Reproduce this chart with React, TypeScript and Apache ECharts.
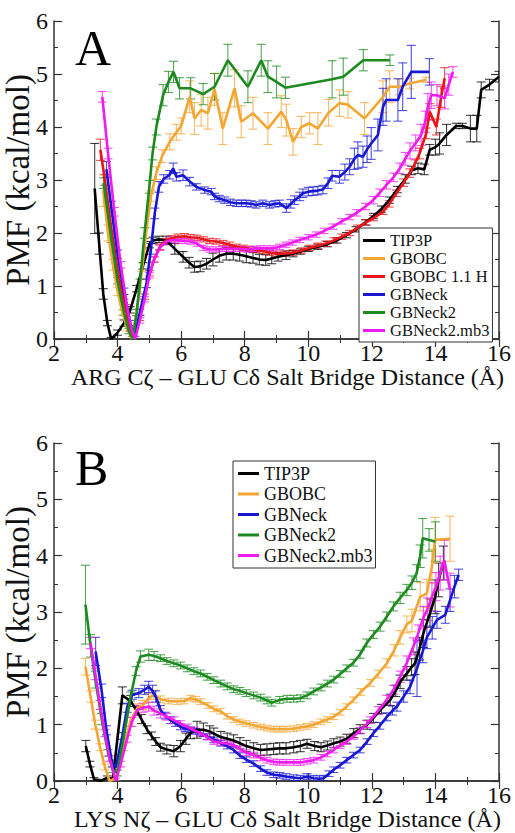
import React, { useEffect, useRef } from "react";
import * as echarts from "echarts";

// ---------- DATA: [distance (Å), PMF (kcal/mol), error] ----------
const A_TIP3P = [
  [3.28, 2.84, 0.85], [3.42, 1.8, 0.2], [3.55, 0.85, 0.1], [3.68, 0.3, 0.05], [3.8, 0.0, 0.03],
  [4.0, 0.12, 0.05], [4.2, 0.3, 0.06], [4.4, 0.55, 0.06], [4.6, 0.95, 0.06], [4.8, 1.38, 0.06],
  [5.0, 1.78, 0.06], [5.12, 1.86, 0.06], [5.3, 1.88, 0.06], [5.53, 1.86, 0.08], [5.8, 1.7, 0.1],
  [6.06, 1.55, 0.1], [6.25, 1.44, 0.1], [6.42, 1.36, 0.1], [6.6, 1.37, 0.1], [6.8, 1.42, 0.1],
  [7.0, 1.5, 0.12], [7.2, 1.57, 0.12], [7.42, 1.61, 0.12], [7.64, 1.61, 0.12], [7.84, 1.59, 0.12],
  [8.05, 1.56, 0.12], [8.26, 1.53, 0.1], [8.46, 1.5, 0.1], [8.66, 1.49, 0.1], [8.85, 1.52, 0.1],
  [9.05, 1.55, 0.08], [9.3, 1.58, 0.08], [9.52, 1.61, 0.06], [9.75, 1.65, 0.05], [10.0, 1.7, 0.05],
  [10.3, 1.74, 0.05], [10.6, 1.79, 0.05], [10.9, 1.86, 0.05], [11.2, 1.96, 0.05], [11.5, 2.07, 0.05],
  [11.8, 2.2, 0.05], [12.05, 2.32, 0.05], [12.3, 2.45, 0.06], [12.55, 2.62, 0.06], [12.8, 2.82, 0.06],
  [13.05, 3.02, 0.08], [13.25, 3.18, 0.08], [13.45, 3.22, 0.1], [13.65, 3.2, 0.1], [13.82, 3.57, 0.1],
  [14.0, 3.62, 0.15], [14.13, 3.69, 0.2], [14.35, 3.85, 0.2], [14.65, 4.02, 0.05], [14.85, 4.02, 0.05],
  [15.1, 3.97, 0.25], [15.3, 3.97, 0.25], [15.44, 4.7, 0.15], [15.7, 4.8, 0.1], [16.0, 4.95, 0.1],
];
const A_GBOBC = [
  [3.55, 2.8, 0.3], [3.7, 2.0, 0.15], [3.85, 1.4, 0.1], [4.0, 0.9, 0.08], [4.15, 0.5, 0.05],
  [4.3, 0.2, 0.05], [4.45, 0.0, 0.05], [4.6, 0.5, 0.06], [4.75, 1.2, 0.08], [4.9, 2.0, 0.1],
  [5.05, 2.7, 0.1], [5.22, 3.13, 0.12], [5.4, 3.45, 0.12], [5.64, 3.72, 0.15], [5.85, 3.9, 0.15],
  [6.0, 4.02, 0.15], [6.27, 4.57, 0.3], [6.42, 4.16, 0.3], [6.63, 4.32, 0.3], [6.84, 4.26, 0.3],
  [7.05, 4.71, 0.3], [7.31, 3.97, 0.3], [7.68, 4.73, 0.35], [7.89, 4.1, 0.3], [8.26, 4.26, 0.3],
  [8.73, 3.97, 0.3], [9.15, 4.29, 0.3], [9.31, 4.13, 0.3], [9.52, 3.72, 0.25], [9.78, 4.0, 0.2],
  [10.04, 4.07, 0.2], [10.3, 3.97, 0.3], [10.64, 4.27, 0.25], [10.98, 4.45, 0.25], [11.25, 4.42, 0.25],
  [11.77, 4.16, 0.3], [12.35, 4.57, 0.3], [12.56, 4.76, 0.3], [12.87, 4.76, 0.15], [13.19, 4.82, 0.1],
  [13.71, 4.89, 0.05],
];
const A_GBOBC11H = [
  [3.46, 3.57, 0.2], [3.6, 3.0, 0.1], [3.8, 2.1, 0.08], [4.0, 1.3, 0.06], [4.2, 0.7, 0.05],
  [4.4, 0.2, 0.05], [4.5, 0.0, 0.05], [4.7, 0.4, 0.05], [4.85, 0.8, 0.05], [5.01, 1.24, 0.05],
  [5.15, 1.5, 0.05], [5.33, 1.74, 0.05], [5.5, 1.85, 0.05], [5.7, 1.9, 0.05], [5.9, 1.93, 0.05],
  [6.1, 1.94, 0.05], [6.3, 1.92, 0.05], [6.5, 1.91, 0.05], [6.7, 1.88, 0.05], [6.9, 1.85, 0.05],
  [7.1, 1.84, 0.05], [7.32, 1.81, 0.05], [7.53, 1.78, 0.05], [7.74, 1.74, 0.05], [7.95, 1.72, 0.05],
  [8.15, 1.7, 0.05], [8.36, 1.68, 0.05], [8.57, 1.66, 0.05], [8.78, 1.63, 0.05], [8.99, 1.61, 0.05],
  [9.25, 1.61, 0.05], [9.52, 1.63, 0.05], [9.78, 1.67, 0.05], [10.04, 1.72, 0.05], [10.3, 1.76, 0.05],
  [10.55, 1.8, 0.05], [10.8, 1.86, 0.05], [11.05, 1.93, 0.05], [11.3, 2.0, 0.05], [11.55, 2.1, 0.05],
  [11.82, 2.2, 0.05], [12.05, 2.28, 0.05], [12.35, 2.4, 0.05], [12.55, 2.55, 0.06], [12.77, 2.75, 0.06],
  [13.0, 2.95, 0.07], [13.19, 3.13, 0.08], [13.35, 3.3, 0.08], [13.5, 3.5, 0.1], [13.71, 3.88, 0.1],
  [13.82, 4.29, 0.15], [14.03, 4.0, 0.15], [14.18, 4.57, 0.2], [14.29, 4.92, 0.2],
];
const A_GBNECK = [
  [3.65, 3.2, 0.15], [3.8, 2.5, 0.1], [4.0, 1.6, 0.08], [4.2, 0.9, 0.06], [4.4, 0.3, 0.05],
  [4.52, 0.0, 0.05], [4.7, 0.5, 0.06], [4.91, 1.05, 0.08], [5.05, 1.7, 0.1], [5.17, 2.37, 0.1],
  [5.3, 2.87, 0.1], [5.45, 3.02, 0.08], [5.64, 3.1, 0.08], [5.75, 3.22, 0.1], [5.85, 3.06, 0.08],
  [6.06, 3.09, 0.1], [6.27, 2.97, 0.08], [6.48, 2.87, 0.06], [6.74, 2.81, 0.06], [6.95, 2.78, 0.06],
  [7.05, 2.69, 0.06], [7.2, 2.65, 0.06], [7.37, 2.62, 0.06], [7.55, 2.58, 0.06], [7.74, 2.56, 0.06],
  [7.9, 2.56, 0.06], [8.05, 2.56, 0.06], [8.2, 2.55, 0.06], [8.36, 2.53, 0.06], [8.57, 2.56, 0.06],
  [8.78, 2.53, 0.06], [8.95, 2.55, 0.06], [9.1, 2.56, 0.06], [9.31, 2.47, 0.08], [9.45, 2.55, 0.08],
  [9.57, 2.62, 0.08], [9.73, 2.69, 0.08], [9.83, 2.75, 0.08], [10.0, 2.78, 0.08], [10.15, 2.79, 0.08],
  [10.3, 2.8, 0.08], [10.46, 2.82, 0.08], [10.62, 2.94, 0.1], [10.75, 3.08, 0.1], [10.98, 3.06, 0.12],
  [11.15, 3.15, 0.15], [11.3, 3.25, 0.15], [11.45, 3.4, 0.2], [11.56, 3.47, 0.25], [11.72, 3.44, 0.2],
  [11.85, 3.58, 0.25], [11.98, 3.69, 0.3], [12.19, 3.85, 0.3], [12.35, 4.38, 0.35], [12.45, 4.51, 0.4],
  [12.82, 4.51, 0.4], [12.97, 4.76, 0.45], [13.24, 5.04, 0.5], [13.81, 5.04, 0.25],
];
const A_GBNECK2 = [
  [3.56, 2.94, 0.1], [3.8, 1.9, 0.08], [4.0, 1.1, 0.06], [4.2, 0.5, 0.05], [4.35, 0.15, 0.05],
  [4.48, 0.0, 0.05], [4.6, 0.5, 0.06], [4.7, 1.05, 0.08], [4.85, 2.0, 0.1], [5.0, 2.87, 0.12],
  [5.1, 3.5, 0.12], [5.22, 4.0, 0.15], [5.43, 4.6, 0.2], [5.6, 4.85, 0.2], [5.76, 5.04, 0.2],
  [5.95, 4.73, 0.2], [6.3, 4.73, 0.2], [6.69, 4.62, 0.2], [7.05, 4.76, 0.25], [7.47, 5.26, 0.3],
  [8.1, 4.76, 0.3], [8.52, 5.26, 0.3], [8.73, 4.95, 0.3], [9.0, 4.85, 0.3], [9.28, 4.74, 0.2],
  [10.75, 4.9, 0.35], [11.1, 4.95, 0.35], [11.73, 5.26, 0.2], [12.57, 5.26, 0.1],
];
const A_MB3 = [
  [3.52, 4.57, 0.1], [3.7, 3.5, 0.1], [3.9, 2.4, 0.08], [4.1, 1.4, 0.06], [4.3, 0.6, 0.05],
  [4.45, 0.15, 0.05], [4.55, 0.0, 0.05], [4.7, 0.35, 0.05], [4.85, 0.75, 0.05], [5.0, 1.2, 0.05],
  [5.15, 1.5, 0.05], [5.33, 1.72, 0.05], [5.5, 1.83, 0.05], [5.7, 1.87, 0.05], [5.9, 1.86, 0.05],
  [6.1, 1.85, 0.05], [6.3, 1.84, 0.05], [6.5, 1.8, 0.05], [6.7, 1.72, 0.05], [6.9, 1.69, 0.05],
  [7.1, 1.69, 0.05], [7.3, 1.7, 0.05], [7.5, 1.7, 0.05], [7.7, 1.7, 0.05], [7.9, 1.7, 0.05],
  [8.1, 1.69, 0.05], [8.3, 1.7, 0.05], [8.5, 1.71, 0.05], [8.7, 1.71, 0.05], [8.9, 1.71, 0.05],
  [9.1, 1.74, 0.05], [9.3, 1.78, 0.05], [9.5, 1.82, 0.05], [9.73, 1.87, 0.05], [10.0, 1.92, 0.05],
  [10.25, 1.97, 0.05], [10.5, 2.04, 0.05], [10.78, 2.12, 0.05], [11.05, 2.22, 0.05], [11.3, 2.3, 0.05],
  [11.52, 2.38, 0.06], [11.8, 2.5, 0.06], [12.04, 2.62, 0.07], [12.25, 2.76, 0.07], [12.46, 2.91, 0.08],
  [12.68, 3.05, 0.08], [12.88, 3.22, 0.1], [13.05, 3.4, 0.12], [13.2, 3.55, 0.15], [13.38, 3.7, 0.15],
  [13.55, 3.85, 0.2], [13.68, 4.1, 0.2], [13.76, 4.38, 0.25], [13.87, 4.6, 0.25], [14.05, 4.6, 0.2],
  [14.29, 4.54, 0.2], [14.42, 4.8, 0.2], [14.55, 5.04, 0.1],
];

const B_TIP3P = [
  [3.0, 0.62, 0.1], [3.13, 0.3, 0.05], [3.26, 0.03, 0.03], [3.47, 0.0, 0.03], [3.68, 0.06, 0.03],
  [3.85, 0.03, 0.03], [4.15, 1.52, 0.15], [4.41, 1.42, 0.1], [4.6, 1.25, 0.08], [4.75, 1.1, 0.08],
  [4.93, 0.91, 0.07], [5.07, 0.8, 0.07], [5.2, 0.7, 0.07], [5.35, 0.6, 0.07], [5.55, 0.56, 0.08],
  [5.77, 0.53, 0.1], [5.98, 0.62, 0.1], [6.15, 0.75, 0.1], [6.29, 0.85, 0.1], [6.5, 0.91, 0.15],
  [6.7, 0.91, 0.12], [6.9, 0.88, 0.1], [7.03, 0.84, 0.1], [7.25, 0.78, 0.1], [7.45, 0.75, 0.1],
  [7.65, 0.72, 0.1], [7.85, 0.67, 0.1], [8.05, 0.62, 0.1], [8.28, 0.58, 0.1], [8.5, 0.55, 0.1],
  [8.7, 0.56, 0.1], [8.91, 0.57, 0.1], [9.1, 0.58, 0.1], [9.3, 0.58, 0.1], [9.54, 0.6, 0.1],
  [9.75, 0.62, 0.1], [9.96, 0.66, 0.08], [10.2, 0.62, 0.08], [10.4, 0.6, 0.08], [10.6, 0.63, 0.08],
  [10.8, 0.67, 0.08], [11.0, 0.7, 0.08], [11.21, 0.75, 0.08], [11.43, 0.85, 0.08], [11.63, 0.92, 0.08],
  [11.85, 1.0, 0.08], [12.05, 1.12, 0.08], [12.3, 1.28, 0.08], [12.58, 1.44, 0.1], [12.75, 1.6, 0.1],
  [12.89, 1.76, 0.12], [13.1, 1.91, 0.12], [13.25, 2.02, 0.15], [13.36, 2.09, 0.2], [13.5, 2.35, 0.2],
  [13.62, 2.62, 0.25], [13.83, 2.98, 0.25], [13.99, 3.27, 0.3], [14.1, 3.57, 0.3], [14.25, 3.87, 0.3],
];
const B_GBOBC = [
  [2.99, 2.03, 0.15], [3.15, 1.5, 0.1], [3.3, 1.0, 0.08], [3.45, 0.6, 0.06], [3.6, 0.25, 0.05],
  [3.75, 0.0, 0.05], [3.95, 0.05, 0.05], [4.2, 0.6, 0.06], [4.4, 1.05, 0.08], [4.62, 1.29, 0.08],
  [4.8, 1.35, 0.08], [4.98, 1.47, 0.08], [5.14, 1.53, 0.08], [5.35, 1.45, 0.06], [5.6, 1.42, 0.05],
  [5.88, 1.41, 0.05], [6.1, 1.42, 0.05], [6.29, 1.47, 0.05], [6.45, 1.45, 0.05], [6.61, 1.41, 0.05],
  [6.85, 1.34, 0.05], [7.03, 1.28, 0.05], [7.24, 1.24, 0.05], [7.45, 1.15, 0.05], [7.65, 1.09, 0.05],
  [7.85, 1.05, 0.05], [8.05, 1.02, 0.05], [8.28, 0.99, 0.05], [8.5, 0.96, 0.05], [8.7, 0.94, 0.05],
  [8.91, 0.92, 0.05], [9.1, 0.92, 0.05], [9.3, 0.92, 0.05], [9.54, 0.93, 0.05], [9.75, 0.95, 0.05],
  [9.96, 0.97, 0.05], [10.17, 1.0, 0.05], [10.4, 1.05, 0.05], [10.6, 1.09, 0.05], [10.8, 1.14, 0.05],
  [11.0, 1.22, 0.05], [11.2, 1.32, 0.05], [11.42, 1.44, 0.05], [11.65, 1.58, 0.06], [11.95, 1.74, 0.06],
  [12.2, 1.9, 0.07], [12.47, 2.09, 0.08], [12.7, 2.32, 0.1], [12.89, 2.55, 0.12], [13.1, 2.78, 0.15],
  [13.26, 2.85, 0.2], [13.52, 3.27, 0.25], [13.73, 3.33, 0.25], [13.89, 3.81, 0.3], [13.99, 4.28, 0.4],
  [14.46, 4.3, 0.4],
];
const B_GBNECK = [
  [3.31, 2.3, 0.25], [3.5, 1.6, 0.12], [3.65, 0.9, 0.08], [3.83, 0.31, 0.06], [3.95, 0.25, 0.05],
  [4.15, 0.8, 0.06], [4.3, 1.3, 0.08], [4.46, 1.53, 0.08], [4.67, 1.56, 0.08], [4.85, 1.62, 0.08],
  [4.98, 1.67, 0.1], [5.1, 1.6, 0.1], [5.2, 1.5, 0.1], [5.35, 1.26, 0.08], [5.5, 1.16, 0.06],
  [5.67, 1.08, 0.06], [5.82, 1.02, 0.05], [5.98, 0.96, 0.05], [6.13, 0.93, 0.05], [6.29, 0.91, 0.05],
  [6.45, 0.88, 0.05], [6.61, 0.85, 0.05], [6.82, 0.79, 0.05], [7.03, 0.73, 0.05], [7.25, 0.67, 0.05],
  [7.45, 0.62, 0.05], [7.65, 0.55, 0.05], [7.85, 0.45, 0.05], [8.05, 0.38, 0.05], [8.28, 0.31, 0.05],
  [8.5, 0.22, 0.05], [8.7, 0.15, 0.05], [8.91, 0.11, 0.05], [9.1, 0.1, 0.05], [9.3, 0.08, 0.05],
  [9.54, 0.06, 0.05], [9.75, 0.05, 0.05], [9.96, 0.08, 0.05], [10.17, 0.05, 0.05], [10.35, 0.04, 0.05],
  [10.48, 0.05, 0.05], [10.65, 0.13, 0.05], [10.8, 0.2, 0.05], [11.0, 0.28, 0.05], [11.21, 0.37, 0.05],
  [11.42, 0.46, 0.05], [11.63, 0.55, 0.05], [11.85, 0.7, 0.05], [12.05, 0.85, 0.06], [12.25, 0.98, 0.06],
  [12.47, 1.14, 0.07], [12.65, 1.25, 0.08], [12.79, 1.32, 0.08], [13.0, 1.5, 0.1], [13.2, 1.67, 0.12],
  [13.42, 2.0, 0.5], [13.6, 2.3, 0.2], [13.73, 2.55, 0.2], [13.9, 2.72, 0.2], [14.05, 2.86, 0.15],
  [14.31, 2.95, 0.15], [14.46, 3.21, 0.2], [14.6, 3.45, 0.2], [14.73, 3.66, 0.1],
];
const B_GBNECK2 = [
  [2.99, 3.13, 0.7], [3.15, 2.4, 0.2], [3.3, 1.8, 0.15], [3.5, 1.1, 0.1], [3.7, 0.5, 0.06],
  [3.85, 0.2, 0.05], [3.99, 0.14, 0.05], [4.2, 0.8, 0.06], [4.41, 1.5, 0.08], [4.58, 1.95, 0.08],
  [4.72, 2.21, 0.1], [4.98, 2.24, 0.1], [5.15, 2.22, 0.08], [5.35, 2.18, 0.06], [5.55, 2.13, 0.06],
  [5.77, 2.09, 0.06], [5.98, 2.05, 0.06], [6.19, 2.0, 0.06], [6.4, 1.95, 0.06], [6.61, 1.91, 0.06],
  [6.82, 1.85, 0.06], [7.03, 1.79, 0.06], [7.25, 1.73, 0.06], [7.45, 1.68, 0.06], [7.65, 1.63, 0.06],
  [7.85, 1.6, 0.06], [8.05, 1.56, 0.06], [8.28, 1.52, 0.06], [8.5, 1.48, 0.06], [8.7, 1.43, 0.06],
  [8.85, 1.39, 0.06], [9.1, 1.44, 0.06], [9.33, 1.46, 0.06], [9.54, 1.46, 0.06], [9.75, 1.47, 0.06],
  [9.96, 1.52, 0.06], [10.17, 1.59, 0.06], [10.4, 1.66, 0.06], [10.6, 1.73, 0.06], [10.8, 1.8, 0.06],
  [11.0, 1.9, 0.06], [11.21, 2.0, 0.06], [11.42, 2.1, 0.06], [11.63, 2.25, 0.07], [11.84, 2.45, 0.07],
  [12.05, 2.6, 0.07], [12.26, 2.74, 0.08], [12.47, 2.92, 0.08], [12.68, 3.1, 0.08], [12.89, 3.25, 0.1],
  [13.1, 3.39, 0.1], [13.26, 3.52, 0.12], [13.41, 3.69, 0.15], [13.52, 3.99, 0.2], [13.6, 4.31, 0.35],
  [13.8, 4.28, 0.2], [14.0, 4.25, 0.35],
];
const B_MB3 = [
  [3.15, 2.45, 0.1], [3.3, 1.9, 0.1], [3.45, 1.35, 0.08], [3.6, 0.85, 0.06], [3.75, 0.4, 0.05],
  [3.94, 0.0, 0.05], [4.1, 0.3, 0.05], [4.3, 0.75, 0.06], [4.45, 1.05, 0.08], [4.62, 1.26, 0.08],
  [4.8, 1.3, 0.08], [4.98, 1.32, 0.08], [5.15, 1.25, 0.08], [5.35, 1.2, 0.08], [5.55, 1.14, 0.06],
  [5.77, 1.08, 0.06], [5.98, 1.02, 0.05], [6.19, 0.96, 0.05], [6.4, 0.9, 0.05], [6.61, 0.85, 0.05],
  [6.82, 0.78, 0.05], [7.03, 0.7, 0.05], [7.25, 0.68, 0.05], [7.45, 0.66, 0.05], [7.65, 0.64, 0.05],
  [7.85, 0.57, 0.05], [8.05, 0.5, 0.05], [8.28, 0.46, 0.05], [8.5, 0.41, 0.05], [8.7, 0.37, 0.05],
  [8.91, 0.34, 0.05], [9.1, 0.33, 0.05], [9.3, 0.33, 0.05], [9.54, 0.33, 0.05], [9.75, 0.33, 0.05],
  [9.96, 0.35, 0.05], [10.17, 0.37, 0.05], [10.4, 0.42, 0.05], [10.6, 0.48, 0.05], [10.8, 0.55, 0.05],
  [11.0, 0.63, 0.05], [11.21, 0.7, 0.05], [11.42, 0.79, 0.05], [11.63, 0.9, 0.05], [11.84, 1.01, 0.06],
  [11.95, 1.08, 0.06], [12.2, 1.25, 0.07], [12.47, 1.44, 0.08], [12.68, 1.62, 0.08], [12.89, 1.85, 0.1],
  [13.1, 2.1, 0.12], [13.31, 2.39, 0.15], [13.46, 2.62, 0.15], [13.62, 2.9, 0.2], [13.75, 3.05, 0.2],
  [13.89, 3.27, 0.25], [14.02, 3.45, 0.25], [14.15, 3.69, 0.3], [14.28, 3.92, 0.35], [14.46, 3.39, 0.3],
];

const X_TITLE_A = "ARG Cζ – GLU Cδ Salt Bridge Distance (Å)";
const X_TITLE_B = "LYS Nζ – GLU Cδ Salt Bridge Distance (Å)";
const Y_TITLE = "PMF (kcal/mol)";

const PANEL_A = [
  { name: "TIP3P", data: A_TIP3P },
  { name: "GBOBC", data: A_GBOBC },
  { name: "GBOBC 1.1 H", data: A_GBOBC11H },
  { name: "GBNeck", data: A_GBNECK },
  { name: "GBNeck2", data: A_GBNECK2 },
  { name: "GBNeck2.mb3", data: A_MB3 },
];
const PANEL_B = [
  { name: "TIP3P", data: B_TIP3P },
  { name: "GBOBC", data: B_GBOBC },
  { name: "GBNeck", data: B_GBNECK },
  { name: "GBNeck2", data: B_GBNECK2 },
  { name: "GBNeck2.mb3", data: B_MB3 },
];

const COLORS: Record<string, string> = {
  TIP3P: "#000000",
  GBOBC: "#f3a634",
  "GBOBC 1.1 H": "#e8161a",
  GBNeck: "#1717d4",
  GBNeck2: "#1c8a1f",
  "GBNeck2.mb3": "#ef1bef",
};

const FONT = '"Liberation Serif", "Times New Roman", serif';

function buildOption() {
  const grids = [
    { left: 54, top: 21, width: 445, height: 318 },
    { left: 54, top: 443, width: 445, height: 338 },
  ];
  const axisLineStyle = { color: "#333", width: 1.5 };
  const xAxes: any[] = [];
  const yAxes: any[] = [];
  const xTitles = [X_TITLE_A, X_TITLE_B];
  grids.forEach((_, gi) => {
    const baseX = {
      type: "value", gridIndex: gi, min: 2, max: 16, interval: 2,
      axisLine: { show: true, lineStyle: axisLineStyle },
      axisTick: { show: true, inside: true, length: 8, lineStyle: { color: "#333", width: 1.2 } },
      minorTick: { show: true, splitNumber: 2, length: 4, lineStyle: { color: "#333", width: 1 } },
      splitLine: { show: false },
    };
    xAxes.push({
      ...baseX, position: "bottom",
      axisLabel: { fontFamily: FONT, fontSize: 24, color: "#111", margin: 2 },
      name: xTitles[gi], nameLocation: "middle", nameGap: 26, nameMoveOverlap: false,
      nameTextStyle: { fontFamily: FONT, fontSize: 24, color: "#111", padding: [0, 0, 0, 22] },
    });
    xAxes.push({ ...baseX, position: "top", axisLabel: { show: false } });
    const baseY = {
      type: "value", gridIndex: gi, min: 0, max: 6, interval: 1,
      axisLine: { show: true, lineStyle: axisLineStyle },
      axisTick: { show: true, inside: true, length: 8, lineStyle: { color: "#333", width: 1.2 } },
      minorTick: { show: true, splitNumber: 2, length: 4, lineStyle: { color: "#333", width: 1 } },
      splitLine: { show: false },
    };
    yAxes.push({
      ...baseY, position: "left",
      axisLabel: { fontFamily: FONT, fontSize: 24, color: "#111", margin: 6 },
      name: Y_TITLE, nameLocation: "middle", nameGap: 20, nameMoveOverlap: false,
      nameTextStyle: { fontFamily: FONT, fontSize: 33, color: "#111" },
    });
    yAxes.push({ ...baseY, position: "right", axisLabel: { show: false } });
  });

  const series: any[] = [];
  [PANEL_A, PANEL_B].forEach((panel, gi) => {
    panel.forEach((s) => {
      const color = COLORS[s.name];
      series.push({
        type: "custom",
        name: s.name + " error",
        xAxisIndex: gi * 2, yAxisIndex: gi * 2,
        data: s.data,
        encode: { x: 0, y: 1 },
        clip: true,
        silent: true,
        z: 2,
        renderItem: (params: any, api: any) => {
          const x = api.value(0);
          const y = api.value(1);
          const e = api.value(2);
          const top = api.coord([x, y + e]);
          const bot = api.coord([x, y - e]);
          const hw = 4.5;
          const style = { stroke: color, lineWidth: 1.1, opacity: 0.75 };
          return {
            type: "group",
            children: [
              { type: "line", shape: { x1: top[0], y1: top[1], x2: bot[0], y2: bot[1] }, style },
              { type: "line", shape: { x1: top[0] - hw, y1: top[1], x2: top[0] + hw, y2: top[1] }, style },
              { type: "line", shape: { x1: bot[0] - hw, y1: bot[1], x2: bot[0] + hw, y2: bot[1] }, style },
            ],
          };
        },
      });
      series.push({
        type: "line",
        name: s.name,
        xAxisIndex: gi * 2, yAxisIndex: gi * 2,
        data: s.data.map((p) => [p[0], p[1]]),
        showSymbol: false,
        symbol: "none",
        color,
        lineStyle: { color, width: 2.6 },
        z: 3,
      });
    });
  });

  const legendCommon = {
    orient: "vertical",
    icon: "rect",
    backgroundColor: "#fff",
    borderColor: "#333",
    borderWidth: 1,
    selectedMode: false,
    z: 10,
  };

  return {
    animation: false,
    backgroundColor: "#ffffff",
    grid: grids.map((g) => ({ ...g, containLabel: false, outerBoundsMode: "none" })),
    xAxis: xAxes,
    yAxis: yAxes,
    legend: [
      {
        ...legendCommon,
        left: 359, top: 228,
        padding: [4, 3, 3, 4],
        itemWidth: 22, itemHeight: 3, itemGap: 1,
        textStyle: { fontFamily: FONT, fontSize: 16.5, lineHeight: 17, color: "#111" },
        data: PANEL_A.map((s) => s.name),
      },
      {
        ...legendCommon,
        left: 233, top: 461,
        padding: [3, 3, 3, 5],
        itemWidth: 21, itemHeight: 3, itemGap: 1.5,
        textStyle: { fontFamily: FONT, fontSize: 18, lineHeight: 19, color: "#111" },
        data: PANEL_B.map((s) => s.name),
      },
    ],
    graphic: [
      { type: "text", left: 75, top: 23, style: { text: "A", font: `50px ${FONT}`, fill: "#000" } },
      { type: "text", left: 75, top: 443, style: { text: "B", font: `50px ${FONT}`, fill: "#000" } },
    ],
    series,
  };
}

export default function App() {
  const ref = useRef<HTMLDivElement>(null);
  useEffect(() => {
    if (!ref.current) return;
    const chart = echarts.init(ref.current, undefined, { renderer: "svg" });
    chart.setOption(buildOption() as any);
    return () => chart.dispose();
  }, []);
  return (
    <div
      ref={ref}
      style={{ position: "fixed", left: 0, top: 0, width: 515, height: 833, background: "#fff" }}
    />
  );
}
